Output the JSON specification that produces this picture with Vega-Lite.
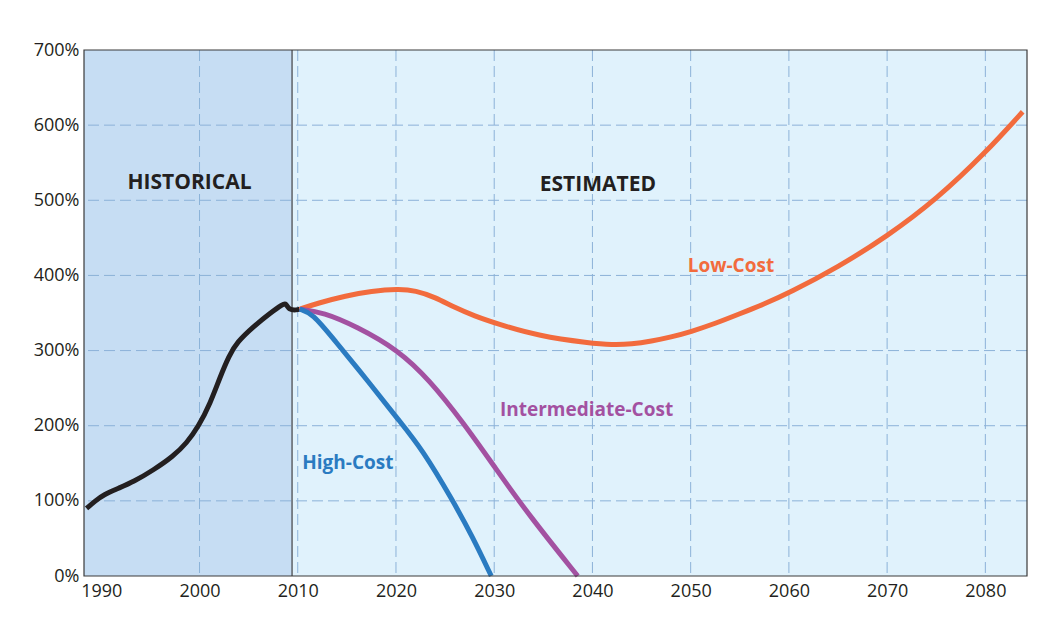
{
  "$schema": "https://vega.github.io/schema/vega-lite/v6.json",
  "width": 943,
  "height": 526,
  "autosize": "none",
  "padding": {"left": 84, "top": 50, "right": 34, "bottom": 64},
  "background": "white",
  "config": {
    "view": {"stroke": null},
    "font": "Open Sans",
    "axis": {"labelFont": "Open Sans", "labelColor": "#231f20", "grid": false, "ticks": false, "domain": false, "title": null}
  },
  "datasets": {
    "periods": [
      {"period": "Historical", "start": 1988.24, "end": 2009.42},
      {"period": "Estimated", "start": 2009.42, "end": 2084.24}
    ],
    "gridx": [{"year": 2000}, {"year": 2010}, {"year": 2020}, {"year": 2030}, {"year": 2040}, {"year": 2050}, {"year": 2060}, {"year": 2070}, {"year": 2080}],
    "gridy": [{"pct": 100}, {"pct": 200}, {"pct": 300}, {"pct": 400}, {"pct": 500}, {"pct": 600}],
    "labels": [
      {"label": "HISTORICAL", "year": 1998.98, "pct": 523, "kind": "period"},
      {"label": "ESTIMATED", "year": 2040.55, "pct": 521, "kind": "period"},
      {"label": "Low-Cost", "year": 2054.1, "pct": 413, "kind": "Low-Cost"},
      {"label": "Intermediate-Cost", "year": 2039.4, "pct": 221, "kind": "Intermediate-Cost"},
      {"label": "High-Cost", "year": 2015.1, "pct": 150, "kind": "High-Cost"}
    ],
    "series": [
      {"series": "Historical", "year": 1988.5, "pct": 90},
      {"series": "Historical", "year": 1989.4, "pct": 100},
      {"series": "Historical", "year": 1990.2, "pct": 108},
      {"series": "Historical", "year": 1991.8, "pct": 117},
      {"series": "Historical", "year": 1993.3, "pct": 125.5},
      {"series": "Historical", "year": 1995.3, "pct": 141},
      {"series": "Historical", "year": 1997.3, "pct": 159},
      {"series": "Historical", "year": 1998.7, "pct": 177},
      {"series": "Historical", "year": 1999.9, "pct": 199},
      {"series": "Historical", "year": 2001.1, "pct": 230},
      {"series": "Historical", "year": 2002.1, "pct": 265},
      {"series": "Historical", "year": 2003.0, "pct": 293},
      {"series": "Historical", "year": 2003.8, "pct": 311},
      {"series": "Historical", "year": 2005.5, "pct": 332},
      {"series": "Historical", "year": 2007.2, "pct": 350},
      {"series": "Historical", "year": 2008.5, "pct": 362},
      {"series": "Historical", "year": 2008.8, "pct": 363},
      {"series": "Historical", "year": 2009.1, "pct": 354},
      {"series": "Historical", "year": 2009.9, "pct": 354},
      {"series": "Historical", "year": 2010.2, "pct": 355},
      {"series": "Low-Cost", "year": 2010.2, "pct": 355},
      {"series": "Low-Cost", "year": 2012.0, "pct": 363},
      {"series": "Low-Cost", "year": 2014.9, "pct": 373},
      {"series": "Low-Cost", "year": 2017.5, "pct": 379},
      {"series": "Low-Cost", "year": 2020.2, "pct": 382},
      {"series": "Low-Cost", "year": 2022.0, "pct": 380},
      {"series": "Low-Cost", "year": 2024.0, "pct": 371},
      {"series": "Low-Cost", "year": 2026.0, "pct": 357},
      {"series": "Low-Cost", "year": 2028.0, "pct": 346},
      {"series": "Low-Cost", "year": 2030.2, "pct": 336},
      {"series": "Low-Cost", "year": 2034.6, "pct": 319},
      {"series": "Low-Cost", "year": 2039.7, "pct": 310},
      {"series": "Low-Cost", "year": 2042.0, "pct": 307.5},
      {"series": "Low-Cost", "year": 2044.0, "pct": 308.5},
      {"series": "Low-Cost", "year": 2046.0, "pct": 312.5},
      {"series": "Low-Cost", "year": 2048.0, "pct": 318},
      {"series": "Low-Cost", "year": 2050.0, "pct": 325},
      {"series": "Low-Cost", "year": 2052.5, "pct": 336},
      {"series": "Low-Cost", "year": 2055.0, "pct": 349},
      {"series": "Low-Cost", "year": 2057.5, "pct": 362},
      {"series": "Low-Cost", "year": 2060.0, "pct": 376.5},
      {"series": "Low-Cost", "year": 2065.0, "pct": 411},
      {"series": "Low-Cost", "year": 2070.0, "pct": 452},
      {"series": "Low-Cost", "year": 2075.0, "pct": 501},
      {"series": "Low-Cost", "year": 2080.0, "pct": 563},
      {"series": "Low-Cost", "year": 2083.8, "pct": 617.8},
      {"series": "Intermediate-Cost", "year": 2010.2, "pct": 355},
      {"series": "Intermediate-Cost", "year": 2012.6, "pct": 351},
      {"series": "Intermediate-Cost", "year": 2016.0, "pct": 332},
      {"series": "Intermediate-Cost", "year": 2020.2, "pct": 301},
      {"series": "Intermediate-Cost", "year": 2023.4, "pct": 261},
      {"series": "Intermediate-Cost", "year": 2026.8, "pct": 205},
      {"series": "Intermediate-Cost", "year": 2030.2, "pct": 142},
      {"series": "Intermediate-Cost", "year": 2033.6, "pct": 80},
      {"series": "Intermediate-Cost", "year": 2038.5, "pct": 0},
      {"series": "High-Cost", "year": 2010.2, "pct": 355},
      {"series": "High-Cost", "year": 2011.5, "pct": 349.5},
      {"series": "High-Cost", "year": 2013.6, "pct": 316},
      {"series": "High-Cost", "year": 2017.3, "pct": 257},
      {"series": "High-Cost", "year": 2020.3, "pct": 207},
      {"series": "High-Cost", "year": 2022.7, "pct": 168},
      {"series": "High-Cost", "year": 2025.8, "pct": 100},
      {"series": "High-Cost", "year": 2027.8, "pct": 52},
      {"series": "High-Cost", "year": 2029.7, "pct": 0}
    ]
  },
  "layer": [
    {
      "data": {"name": "periods"},
      "mark": {"type": "rect"},
      "encoding": {
        "x": {"field": "start", "type": "quantitative", "scale": {"domain": [1988.24, 2084.24], "nice": false, "zero": false},
              "axis": {"values": [1990, 2000, 2010, 2020, 2030, 2040, 2050, 2060, 2070, 2080], "format": "d", "labelFontSize": 18, "labelPadding": 6}},
        "x2": {"field": "end"},
        "y": {"datum": 0, "type": "quantitative", "scale": {"domain": [0, 700], "nice": false},
              "axis": {"values": [0, 100, 200, 300, 400, 500, 600, 700], "labelExpr": "datum.value + '%'", "labelFontSize": 18, "labelPadding": 5}},
        "y2": {"datum": 700},
        "fill": {"field": "period", "type": "nominal", "scale": {"domain": ["Historical", "Estimated"], "range": ["#c6ddf3", "#e0f2fc"]}, "legend": null}
      }
    },
    {
      "data": {"name": "gridx"},
      "mark": {"type": "rule", "stroke": "#8cb2d8", "strokeWidth": 1, "strokeDash": [11, 5]},
      "encoding": {"x": {"field": "year", "type": "quantitative"}}
    },
    {
      "data": {"name": "gridy"},
      "mark": {"type": "rule", "stroke": "#8cb2d8", "strokeWidth": 1, "strokeDash": [11, 5]},
      "encoding": {"y": {"field": "pct", "type": "quantitative"}}
    },
    {
      "data": {"name": "periods"},
      "transform": [{"filter": "datum.period == 'Historical'"}],
      "mark": {"type": "rule", "stroke": "#231f20", "strokeWidth": 1},
      "encoding": {"x": {"field": "end", "type": "quantitative"}}
    },
    {
      "data": {"name": "series"},
      "mark": {"type": "line", "strokeWidth": 5, "interpolate": "basis", "strokeCap": "butt", "strokeJoin": "round"},
      "encoding": {
        "x": {"field": "year", "type": "quantitative"},
        "y": {"field": "pct", "type": "quantitative"},
        "stroke": {"field": "series", "type": "nominal", "scale": {"domain": ["Historical", "Low-Cost", "Intermediate-Cost", "High-Cost"], "range": ["#231f20", "#f26b3d", "#a351a1", "#2a7bc1"]}, "legend": null},
        "order": {"field": "year", "type": "quantitative"}
      }
    },
    {
      "data": {"name": "periods"},
      "transform": [{"aggregate": [{"op": "min", "field": "start", "as": "lo"}, {"op": "max", "field": "end", "as": "hi"}]}],
      "mark": {"type": "rect", "fill": null, "stroke": "#3a3a3a", "strokeWidth": 1.2},
      "encoding": {"x": {"field": "lo", "type": "quantitative"}, "x2": {"field": "hi"}, "y": {"datum": 0, "type": "quantitative"}, "y2": {"datum": 700}}
    },
    {
      "data": {"name": "labels"},
      "transform": [{"filter": "datum.kind == 'period'"}],
      "mark": {"type": "text", "font": "Open Sans", "fontWeight": "bold", "fontSize": 21, "fill": "#231f20", "align": "center", "baseline": "middle"},
      "encoding": {"x": {"field": "year", "type": "quantitative"}, "y": {"field": "pct", "type": "quantitative"}, "text": {"field": "label"}}
    },
    {
      "data": {"name": "labels"},
      "transform": [{"filter": "datum.kind != 'period'"}],
      "mark": {"type": "text", "font": "Open Sans", "fontWeight": "bold", "fontSize": 19, "align": "center", "baseline": "middle"},
      "encoding": {
        "x": {"field": "year", "type": "quantitative"},
        "y": {"field": "pct", "type": "quantitative"},
        "text": {"field": "label"},
        "color": {"field": "kind", "type": "nominal", "scale": {"domain": ["Low-Cost", "Intermediate-Cost", "High-Cost"], "range": ["#f26b3d", "#a351a1", "#2a7bc1"]}, "legend": null}
      }
    }
  ]
}
